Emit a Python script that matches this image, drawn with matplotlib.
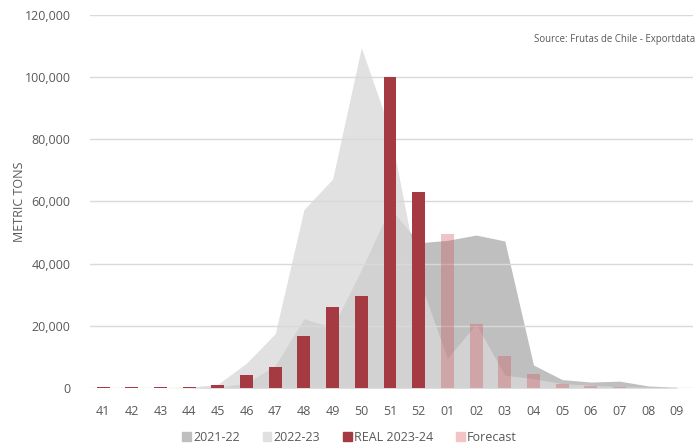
import matplotlib
matplotlib.use('Agg')
import matplotlib.pyplot as plt
from matplotlib.patches import Patch

weeks = ['41', '42', '43', '44', '45', '46', '47', '48', '49', '50', '51', '52',
         '01', '02', '03', '04', '05', '06', '07', '08', '09']

season_2122 = [0, 0, 0, 0, 300, 1500, 7300, 22300, 19500, 38000, 58000, 46700,
               47500, 49200, 47300, 7400, 2700, 1900, 2200, 650, 200]
season_2223 = [0, 0, 0, 200, 1200, 8000, 17500, 57400, 67200, 109500, 83000, 35400,
               9500, 20600, 4100, 3000, 1400, 900, 400, 200, 0]
real_2324 = [200, 200, 200, 200, 900, 4100, 6800, 16700, 26000, 29500, 99900, 63200,
             0, 0, 0, 0, 0, 0, 0, 0, 0]
forecast = [0, 0, 0, 0, 0, 0, 0, 0, 0, 0, 0, 0,
            49400, 20500, 10200, 4400, 1200, 650, 250, 100, 0]

yticks = [0, 20000, 40000, 60000, 80000, 100000, 120000]

plt.rcParams['font.family'] = ['Open Sans', 'DejaVu Sans']

DARK = '#bfbfbf'
LIGHT = '#d9d9d9'
RED = '#a63a42'
PINK = '#cd4c54'
TXT = '#595959'


def main():
    fig = plt.figure(figsize=(6.99, 4.48), dpi=100)
    ax = fig.add_axes([0.129, 0.134, 0.862, 0.8325])
    x = list(range(len(weeks)))

    ax.fill_between(x, season_2122, color=DARK, linewidth=0, zorder=1)
    ax.fill_between(x, season_2223, color=LIGHT, alpha=0.77, linewidth=0, zorder=2)

    for yv in yticks:
        ax.axhline(yv, color='#d9d9d9', linewidth=1, zorder=3)

    ax.bar(x, real_2324, width=0.45, color=RED, zorder=4)
    ax.bar(x, forecast, width=0.45, color=PINK, alpha=0.33, zorder=4)

    ax.set_xlim(-0.45, 20.55)
    ax.set_ylim(0, 120000)
    ax.set_yticks(yticks)
    ax.set_yticklabels(['{:,}'.format(v) for v in yticks])
    ax.set_xticks(x)
    ax.set_xticklabels(weeks)
    ax.tick_params(axis='both', length=0, labelsize=9, labelcolor=TXT)
    ax.tick_params(axis='y', pad=14)
    ax.tick_params(axis='x', pad=12)
    for s in ax.spines.values():
        s.set_visible(False)

    ax.set_ylabel('METRIC TONS', fontsize=9, color=TXT)
    ax.yaxis.set_label_coords(-0.107, 0.5)

    fig.text(0.994, 0.912, 'Source: Frutas de Chile - Exportdata', ha='right', va='center',
             fontsize=6.9, color=TXT)

    handles = [Patch(color=DARK), Patch(color='#e0e0e0'), Patch(color=RED), Patch(color='#f2c4c6')]
    labels = ['2021-22', '2022-23', 'REAL 2023-24', 'Forecast']
    fig.legend(handles, labels, loc='center', bbox_to_anchor=(0.5, 0.024), ncol=4,
               frameon=False, fontsize=9, labelcolor=TXT, handlelength=0.7,
               handleheight=0.7, handletextpad=0.2, columnspacing=1.8)

    fig.savefig('out.png', dpi=100)


if __name__ == '__main__':
    main()
